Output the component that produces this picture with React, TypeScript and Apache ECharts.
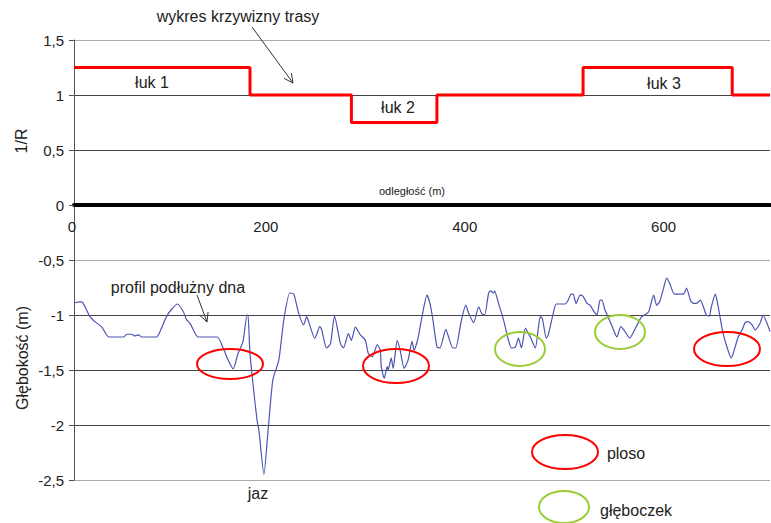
import React, { useEffect, useRef } from "react";
import * as echarts from "echarts";

// ---- data ----
const yTicks = [-2.5, -2, -1.5, -1, -0.5, 0, 0.5, 1, 1.5];
const xTickLabels = [0, 200, 400, 600];

// curvature (1/R) step plot: break positions (m) and levels
const curveX = [0, 177, 279, 365, 512, 662, 700];
const curveY = [1.25, 1, 0.75, 1, 1.25, 1, 1];

// longitudinal bottom profile: distance (m) and depth (m)
const depthX = [
  0, 6, 9, 16, 21, 28, 35, 50, 53, 58, 61, 65, 68, 83, 87, 93, 98, 104, 110, 113,
  117, 125, 144, 150, 155, 160, 165, 170, 174, 175, 177, 184, 186, 191, 195, 200, 206, 211, 217, 221,
  226, 231, 234, 237, 242, 244, 247, 249, 254, 258, 262, 268, 271, 276, 279, 283, 288, 293, 296, 300,
  305, 308, 309, 312, 315, 316, 319, 321, 325, 328, 332, 336, 340, 342, 346, 350, 355, 358, 361, 365,
  368, 374, 376, 381, 384, 389, 394, 397, 402, 407, 410, 413, 417, 419, 422, 423, 427, 432, 437, 440,
  444, 447, 450, 454, 457, 459, 464, 467, 469, 471, 475, 477, 482, 485, 494, 497, 500, 502, 505, 509,
  512, 516, 519, 522, 526, 529, 531, 534, 537, 542, 546, 550, 553, 559, 563, 568, 571, 574, 578, 583,
  586, 589, 593, 596, 599, 604, 613, 616, 620, 623, 626, 630, 633, 636, 639, 641, 645, 647, 650, 652,
  656, 661, 663, 668, 672, 675, 678, 682, 685, 690, 693, 697, 700,
];
const depthY = [
  -0.89, -0.88, -0.89, -1.015, -1.06, -1.11, -1.2, -1.2, -1.175, -1.175, -1.19, -1.18, -1.2, -1.2, -1.14, -1.015, -0.95, -0.9, -0.97, -1.04,
  -1.08, -1.2, -1.2, -1.3, -1.41, -1.49, -1.35, -1.24, -1.0, -1.0, -1.35, -1.95, -2.05, -2.45, -2.07, -1.59, -1.41, -1.045, -0.8, -0.81,
  -0.985, -1.09, -1.015, -1.09, -1.21, -1.18, -1.105, -1.13, -1.3, -1.26, -1.01, -1.26, -1.3, -1.17, -1.23, -1.11, -1.18, -1.23, -1.35, -1.38,
  -1.27, -1.32, -1.47, -1.575, -1.47, -1.5, -1.39, -1.485, -1.23, -1.32, -1.485, -1.41, -1.24, -1.32, -1.21, -1.015, -0.82, -0.895, -1.045, -1.29,
  -1.3, -1.13, -1.18, -1.3, -1.3, -1.075, -0.91, -0.985, -1.07, -0.925, -0.985, -1.0, -0.8, -0.78, -0.8, -0.78, -0.895, -1.045, -1.23, -1.3,
  -1.29, -1.21, -1.3, -1.12, -1.17, -1.2, -1.3, -1.12, -1.015, -1.03, -1.21, -1.18, -0.985, -0.9, -0.9, -0.865, -0.81, -0.81, -0.895, -0.82,
  -0.83, -0.895, -0.91, -0.955, -1.0, -0.865, -0.865, -0.955, -1.015, -1.12, -1.2, -1.105, -1.135, -1.21, -1.15, -1.06, -1.015, -1.0, -0.97, -0.82,
  -0.91, -0.88, -0.755, -0.665, -0.71, -0.81, -0.81, -0.755, -0.865, -0.895, -0.895, -0.865, -0.925, -1.0, -1.01, -0.925, -0.81, -0.88, -1.03, -1.135,
  -1.27, -1.39, -1.35, -1.2, -1.135, -1.07, -1.06, -1.09, -1.135, -1.075, -1.0, -1.075, -1.15,
];

const FONT = "'Liberation Sans', Arial, sans-serif";
const RED = "#ff0000";
const GREEN = "#99cc33";
const TXT = "#222222";

function txt(text: string, x: number, y: number, size = 16, rotation = 0) {
  return {
    type: "text",
    x,
    y,
    rotation,
    z: 10,
    style: {
      text,
      fill: TXT,
      fontSize: size,
      fontFamily: FONT,
      align: "center",
      verticalAlign: "middle",
    },
  };
}

function ell(cx: number, cy: number, rx: number, ry: number, color: string) {
  return {
    type: "ellipse",
    z: 10,
    shape: { cx, cy, rx, ry },
    style: { fill: "none", stroke: color, lineWidth: 2 },
  };
}

function arrow(x1: number, y1: number, x2: number, y2: number) {
  const dx = x2 - x1;
  const dy = y2 - y1;
  const len = Math.sqrt(dx * dx + dy * dy);
  const ux = dx / len;
  const uy = dy / len;
  const hl = 9;
  const hw = 4.5;
  const bx = x2 - ux * hl;
  const by = y2 - uy * hl;
  return [
    {
      type: "line",
      z: 10,
      shape: { x1, y1, x2, y2 },
      style: { stroke: "#333", lineWidth: 1 },
    },
    {
      type: "polyline",
      z: 10,
      shape: {
        points: [
          [bx - uy * hw, by + ux * hw],
          [x2, y2],
          [bx + uy * hw, by - ux * hw],
        ],
      },
      style: { stroke: "#333", lineWidth: 1, fill: "none" },
    },
  ];
}

export default function App() {
  const ref = useRef<HTMLDivElement>(null);

  useEffect(() => {
    if (!ref.current) return;
    const chart = echarts.init(ref.current, null, { renderer: "svg" });

    const curveData = curveX.map((x, i) => [x, curveY[i]]);
    const depthData = depthX.map((x, i) => [x, depthY[i]]);

    const staticGraphics: any[] = [
      txt("wykres krzywizny trasy", 238, 16),
      ...arrow(252, 27, 293, 83),
      txt("łuk 1", 152, 82),
      txt("łuk 2", 398, 107),
      txt("łuk 3", 664, 83),
      {
        type: "text",
        x: 412,
        y: 191,
        z: 10,
        style: {
          text: "odległość (m)",
          fill: TXT,
          fontSize: 11,
          fontFamily: FONT,
          align: "center",
          verticalAlign: "middle",
        },
      },
      txt("1/R", 21, 141, 16, Math.PI / 2),
      txt("Głębokość (m)", 22, 358, 16, Math.PI / 2),
      txt("profil podłużny dna", 178, 287),
      ...arrow(197, 295, 207, 322),
      txt("jaz", 258, 493),
      ell(230, 364, 33, 15, RED),
      ell(396, 366, 33, 17, RED),
      ell(520, 349, 25, 17, GREEN),
      ell(620, 332, 25, 17, GREEN),
      ell(727, 349, 33, 17, RED),
      ell(565, 452, 33, 17, RED),
      txt("ploso", 626, 453),
      ell(564, 507, 25, 16, GREEN),
      txt("głęboczek", 636, 510),
    ];

    chart.setOption({
      animation: false,
      backgroundColor: "#ffffff",
      grid: { left: 74, right: 1, top: 40, bottom: 43, containLabel: false },
      xAxis: {
        type: "value",
        min: 0,
        max: 700,
        interval: 200,
        axisLine: { onZero: true, lineStyle: { color: "#000", width: 4 } },
        axisTick: { show: false },
        splitLine: { show: false },
        axisLabel: { show: false },
      },
      yAxis: {
        type: "value",
        min: yTicks[0],
        max: yTicks[yTicks.length - 1],
        interval: 0.5,
        axisLine: { show: true, lineStyle: { color: "#555", width: 1 } },
        axisTick: { show: true, length: 5, lineStyle: { color: "#555" } },
        splitLine: {
          show: true,
          lineStyle: { color: ["#aaaaaa", "#444444", "#444444", "#444444"], width: 1 },
        },
        axisLabel: {
          margin: 10,
          color: TXT,
          fontSize: 15,
          fontFamily: FONT,
          formatter: (v: number) => String(v).replace(".", ","),
        },
      },
      series: [
        {
          type: "line",
          data: curveData,
          step: "end",
          symbol: "none",
          lineStyle: { color: RED, width: 3 },
          z: 3,
        },
        {
          type: "line",
          data: depthData,
          symbol: "none",
          smooth: 0.2,
          lineStyle: { color: "#4d55b3", width: 1.2 },
          z: 4,
        },
      ],
      graphic: staticGraphics,
    });

    // x tick labels sit just under the zero line, placed through the axis scale
    const tickGraphics = xTickLabels.map((v) => {
      const p = chart.convertToPixel({ xAxisIndex: 0, yAxisIndex: 0 }, [v, 0]) as number[];
      return {
        type: "text",
        x: p[0] - (v === 0 ? 2 : 7),
        y: p[1] + 21,
        z: 10,
        style: {
          text: String(v),
          fill: TXT,
          fontSize: 15,
          fontFamily: FONT,
          align: "center",
          verticalAlign: "middle",
        },
      };
    });
    chart.setOption({ graphic: [...staticGraphics, ...tickGraphics] });

    return () => chart.dispose();
  }, []);

  return (
    <div
      ref={ref}
      style={{ position: "absolute", left: 0, top: 0, width: 771, height: 523 }}
    />
  );
}
